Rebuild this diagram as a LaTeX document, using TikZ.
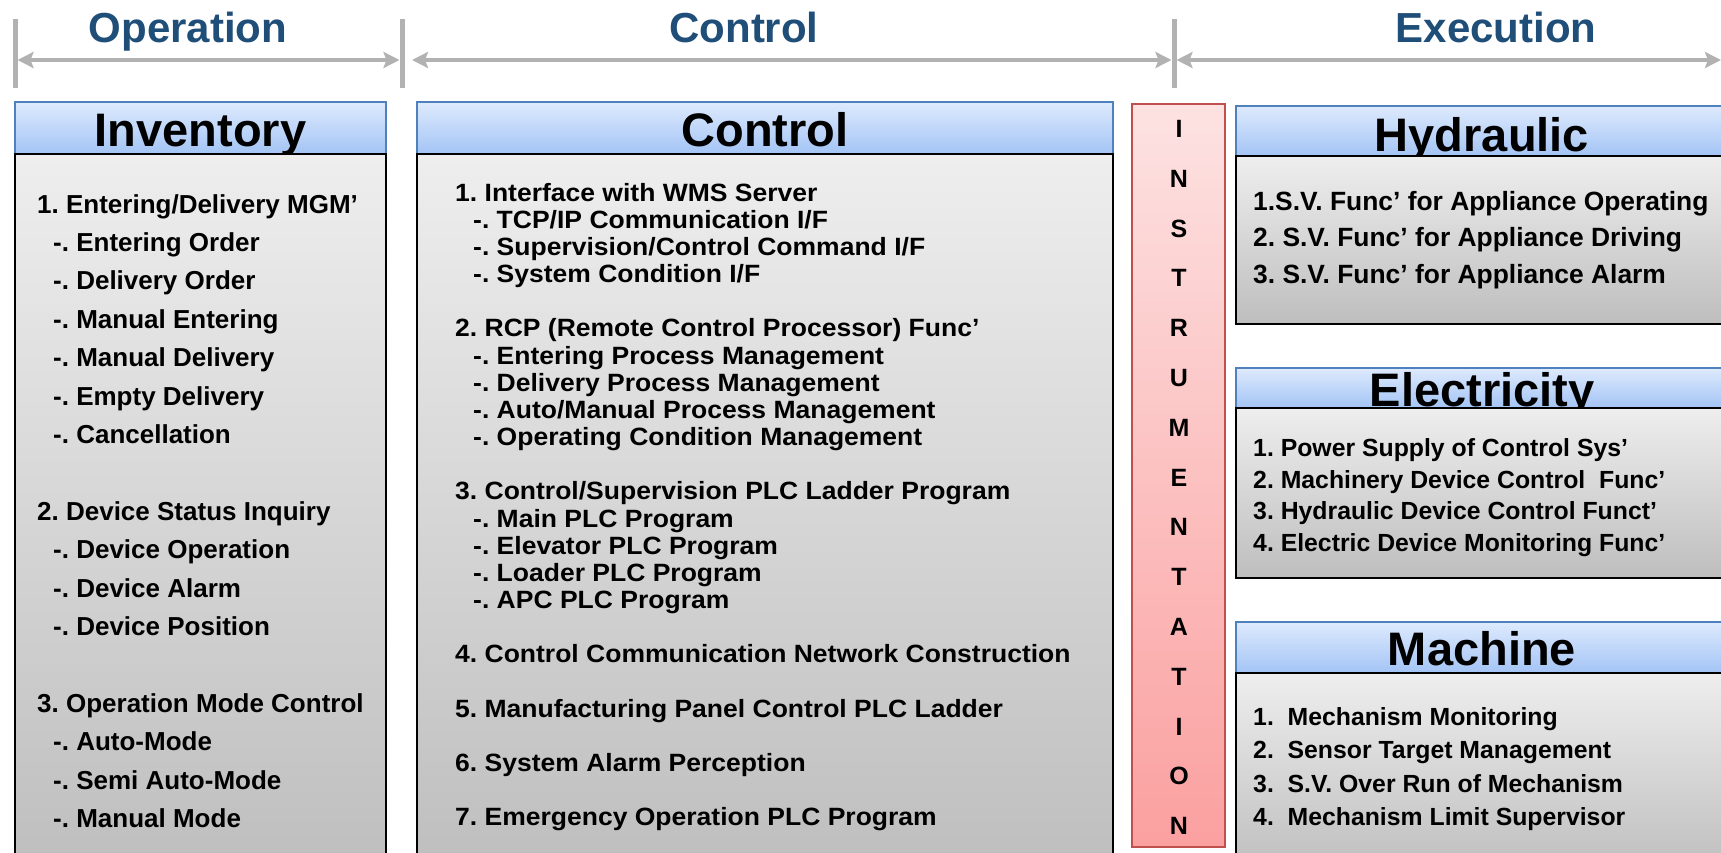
\documentclass[tikz,border=0pt]{standalone}
\usepackage{fontspec}
\setmainfont{Liberation Sans}
\newfontfamily\widefont[FakeStretch=1.06]{Liberation Sans}
\usetikzlibrary{arrows.meta}
\definecolor{titleblue}{RGB}{31,78,121}
\definecolor{bargray}{RGB}{178,178,178}
\definecolor{hdrtop}{RGB}{222,234,253}
\definecolor{hdrbot}{RGB}{163,196,245}
\definecolor{hdrline}{RGB}{79,129,189}
\definecolor{bodytop}{RGB}{238,238,238}
\definecolor{bodybot}{RGB}{190,190,190}
\definecolor{pinktop}{RGB}{253,226,226}
\definecolor{pinkbot}{RGB}{251,160,160}
\definecolor{pinkline}{RGB}{192,80,77}
\tikzset{
  title/.style={font=\fontsize{42}{50}\selectfont\bfseries, text=titleblue, anchor=base, inner sep=0pt},
  bar/.style={draw=bargray, line width=5pt},
  span/.style={draw=bargray, line width=4.5pt, arrows={Stealth[length=16pt,width=16pt,inset=3pt]-Stealth[length=16pt,width=16pt,inset=3pt]}},
  hdr/.style={top color=hdrtop, bottom color=hdrbot, draw=hdrline, line width=1.2pt, anchor=north west, inner sep=0pt, outer sep=0pt},
  body/.style={top color=bodytop, bottom color=bodybot, draw=black, line width=2pt, anchor=north west, inner sep=0pt, outer sep=0pt},
  instrbox/.style={top color=pinktop, bottom color=pinkbot, draw=pinkline, line width=2pt, anchor=north west, inner sep=0pt, outer sep=0pt},
  hdrtext/.style={font=\fontsize{47}{56}\selectfont\bfseries, anchor=base, inner sep=0pt},
  invitem/.style={font=\fontsize{26}{30}\selectfont\bfseries, anchor=base west, inner sep=0pt},
  ctlitem/.style={font=\widefont\fontsize{25}{30}\selectfont\bfseries, anchor=base west, inner sep=0pt},
  hyditem/.style={font=\fontsize{26.4}{30}\selectfont\bfseries, anchor=base west, inner sep=0pt},
  exitem/.style={font=\fontsize{24.8}{28}\selectfont\bfseries, anchor=base west, inner sep=0pt},
  instr/.style={font=\fontsize{25}{28}\selectfont\bfseries, anchor=base, inner sep=0pt},
}
\frenchspacing
\begin{document}
\begin{tikzpicture}[x=1pt,y=-1pt]
\useasboundingbox (0,0) rectangle (1721,852);
\clip (0,0) rectangle (1721,852);

% section titles
\node[title] (opt) at (188,42) {Operation};
\node[title] (ctt) at (744,42) {Control};
\node[title] (ext) at (1496,42) {Execution};

% bars
\coordinate (b1t) at (15,19);  \coordinate (b1b) at (15,88);
\coordinate (b2t) at (402,19); \coordinate (b2b) at (402,88);
\coordinate (b3t) at (1174,19);\coordinate (b3b) at (1174,88);
\draw[bar] (b1t) -- (b1b);
\draw[bar] (b2t) -- (b2b);
\draw[bar] (b3t) -- (b3b);

% spans
\coordinate (opL) at (17.5,60);  \coordinate (opR) at (399.5,60);
\coordinate (ctL) at (412,60);   \coordinate (ctR) at (1171.5,60);
\coordinate (exL) at (1176.5,60);\coordinate (exR) at (1721,60);
\draw[span] (opL) -- (opR);
\draw[span] (ctL) -- (ctR);
\draw[span] (exL) -- (exR);

% headers
\node[hdr, minimum width=371pt, minimum height=52pt] (invH) at (15,102) {};
\node[hdr, minimum width=696pt, minimum height=52pt] (ctlH) at (417,102) {};
\node[hdr, minimum width=500pt, minimum height=50pt] (hydH) at (1236,106) {};
\node[hdr, minimum width=500pt, minimum height=40pt] (eleH) at (1236,368) {};
\node[hdr, minimum width=500pt, minimum height=51pt] (macH) at (1236,622) {};

\node[hdrtext] (invT) at (200.5,146) {Inventory};
\node[hdrtext] (ctlT) at (765,146) {Control};
\node[hdrtext] (hydT) at (1482,151) {Hydraulic};
\node[hdrtext] (eleT) at (1482,406) {Electricity};
\node[hdrtext] (macT) at (1482,665) {Machine};

% bodies
\node[body, minimum width=371pt, minimum height=720pt] (invB) at (15,154) {};
\node[body, minimum width=696pt, minimum height=720pt] (ctlB) at (417,154) {};
\node[body, minimum width=500pt, minimum height=168pt] (hydB) at (1236,156) {};
\node[body, minimum width=500pt, minimum height=170pt] (eleB) at (1236,408) {};
\node[body, minimum width=500pt, minimum height=200pt] (macB) at (1236,673) {};

% instrumentation
\node[instrbox, minimum width=93pt, minimum height=743pt] (insB) at (1132,104) {};
\foreach \L [count=\i from 0] in {I,N,S,T,R,U,M,E,N,T,A,T,I,O,N}
  \node[instr] (ins\i) at (1179,137.4+49.8*\i) {\L};

% inventory items
\node[invitem] (inv1) at (37,213) {1. Entering/Delivery MGM’};
\node[invitem] (inv2) at (53,251.4) {-. Entering Order};
\node[invitem] (inv3) at (53,289.8) {-. Delivery Order};
\node[invitem] (inv4) at (53,328.2) {-. Manual Entering};
\node[invitem] (inv5) at (53,366.6) {-. Manual Delivery};
\node[invitem] (inv6) at (53,405) {-. Empty Delivery};
\node[invitem] (inv7) at (53,443.4) {-. Cancellation};
\node[invitem] (inv8) at (37,520.2) {2. Device Status Inquiry};
\node[invitem] (inv9) at (53,558.6) {-. Device Operation};
\node[invitem] (inv10) at (53,597) {-. Device Alarm};
\node[invitem] (inv11) at (53,635.4) {-. Device Position};
\node[invitem] (inv12) at (37,712.2) {3. Operation Mode Control};
\node[invitem] (inv13) at (53,750.6) {-. Auto-Mode};
\node[invitem] (inv14) at (53,789) {-. Semi Auto-Mode};
\node[invitem] (inv15) at (53,827.4) {-. Manual Mode};

% control items
\node[ctlitem] (c1) at (455,201) {1. Interface with WMS Server};
\node[ctlitem] (c2) at (473,228.2) {-. TCP/IP Communication I/F};
\node[ctlitem] (c3) at (473,255.3) {-. Supervision/Control Command I/F};
\node[ctlitem] (c4) at (473,282.5) {-. System Condition I/F};
\node[ctlitem] (c5) at (455,336.9) {2. RCP (Remote Control Processor) Func’};
\node[ctlitem] (c6) at (473,364) {-. Entering Process Management};
\node[ctlitem] (c7) at (473,391.2) {-. Delivery Process Management};
\node[ctlitem] (c8) at (473,418.4) {-. Auto/Manual Process Management};
\node[ctlitem] (c9) at (473,445.5) {-. Operating Condition Management};
\node[ctlitem] (c10) at (455,499.9) {3. Control/Supervision PLC Ladder Program};
\node[ctlitem] (c11) at (473,527) {-. Main PLC Program};
\node[ctlitem] (c12) at (473,554.2) {-. Elevator PLC Program};
\node[ctlitem] (c13) at (473,581.4) {-. Loader PLC Program};
\node[ctlitem] (c14) at (473,608.6) {-. APC PLC Program};
\node[ctlitem] (c15) at (455,662.9) {4. Control Communication Network Construction};
\node[ctlitem] (c16) at (455,717.2) {5. Manufacturing Panel Control PLC Ladder};
\node[ctlitem] (c17) at (455,771.6) {6. System Alarm Perception};
\node[ctlitem] (c18) at (455,825.9) {7. Emergency Operation PLC Program};

% hydraulic items
\node[hyditem] (h1) at (1253,210) {1.S.V. Func’ for Appliance Operating};
\node[hyditem] (h2) at (1253,246.6) {2. S.V. Func’ for Appliance Driving};
\node[hyditem] (h3) at (1253,283.4) {3. S.V. Func’ for Appliance Alarm};

% electricity items
\node[exitem] (e1) at (1253,456.5) {1. Power Supply of Control Sys’};
\node[exitem] (e2) at (1253,488.5) {2. Machinery Device Control~ Func’};
\node[exitem] (e3) at (1253,519.5) {3. Hydraulic Device Control Funct’};
\node[exitem] (e4) at (1253,551.5) {4. Electric Device Monitoring Func’};

% machine items
\node[exitem] (m1) at (1253,725.5) {1.~ Mechanism Monitoring};
\node[exitem] (m2) at (1253,758.5) {2.~ Sensor Target Management};
\node[exitem] (m3) at (1253,792.5) {3.~ S.V. Over Run of Mechanism};
\node[exitem] (m4) at (1253,825.5) {4.~ Mechanism Limit Supervisor};
\end{tikzpicture}
\end{document}
